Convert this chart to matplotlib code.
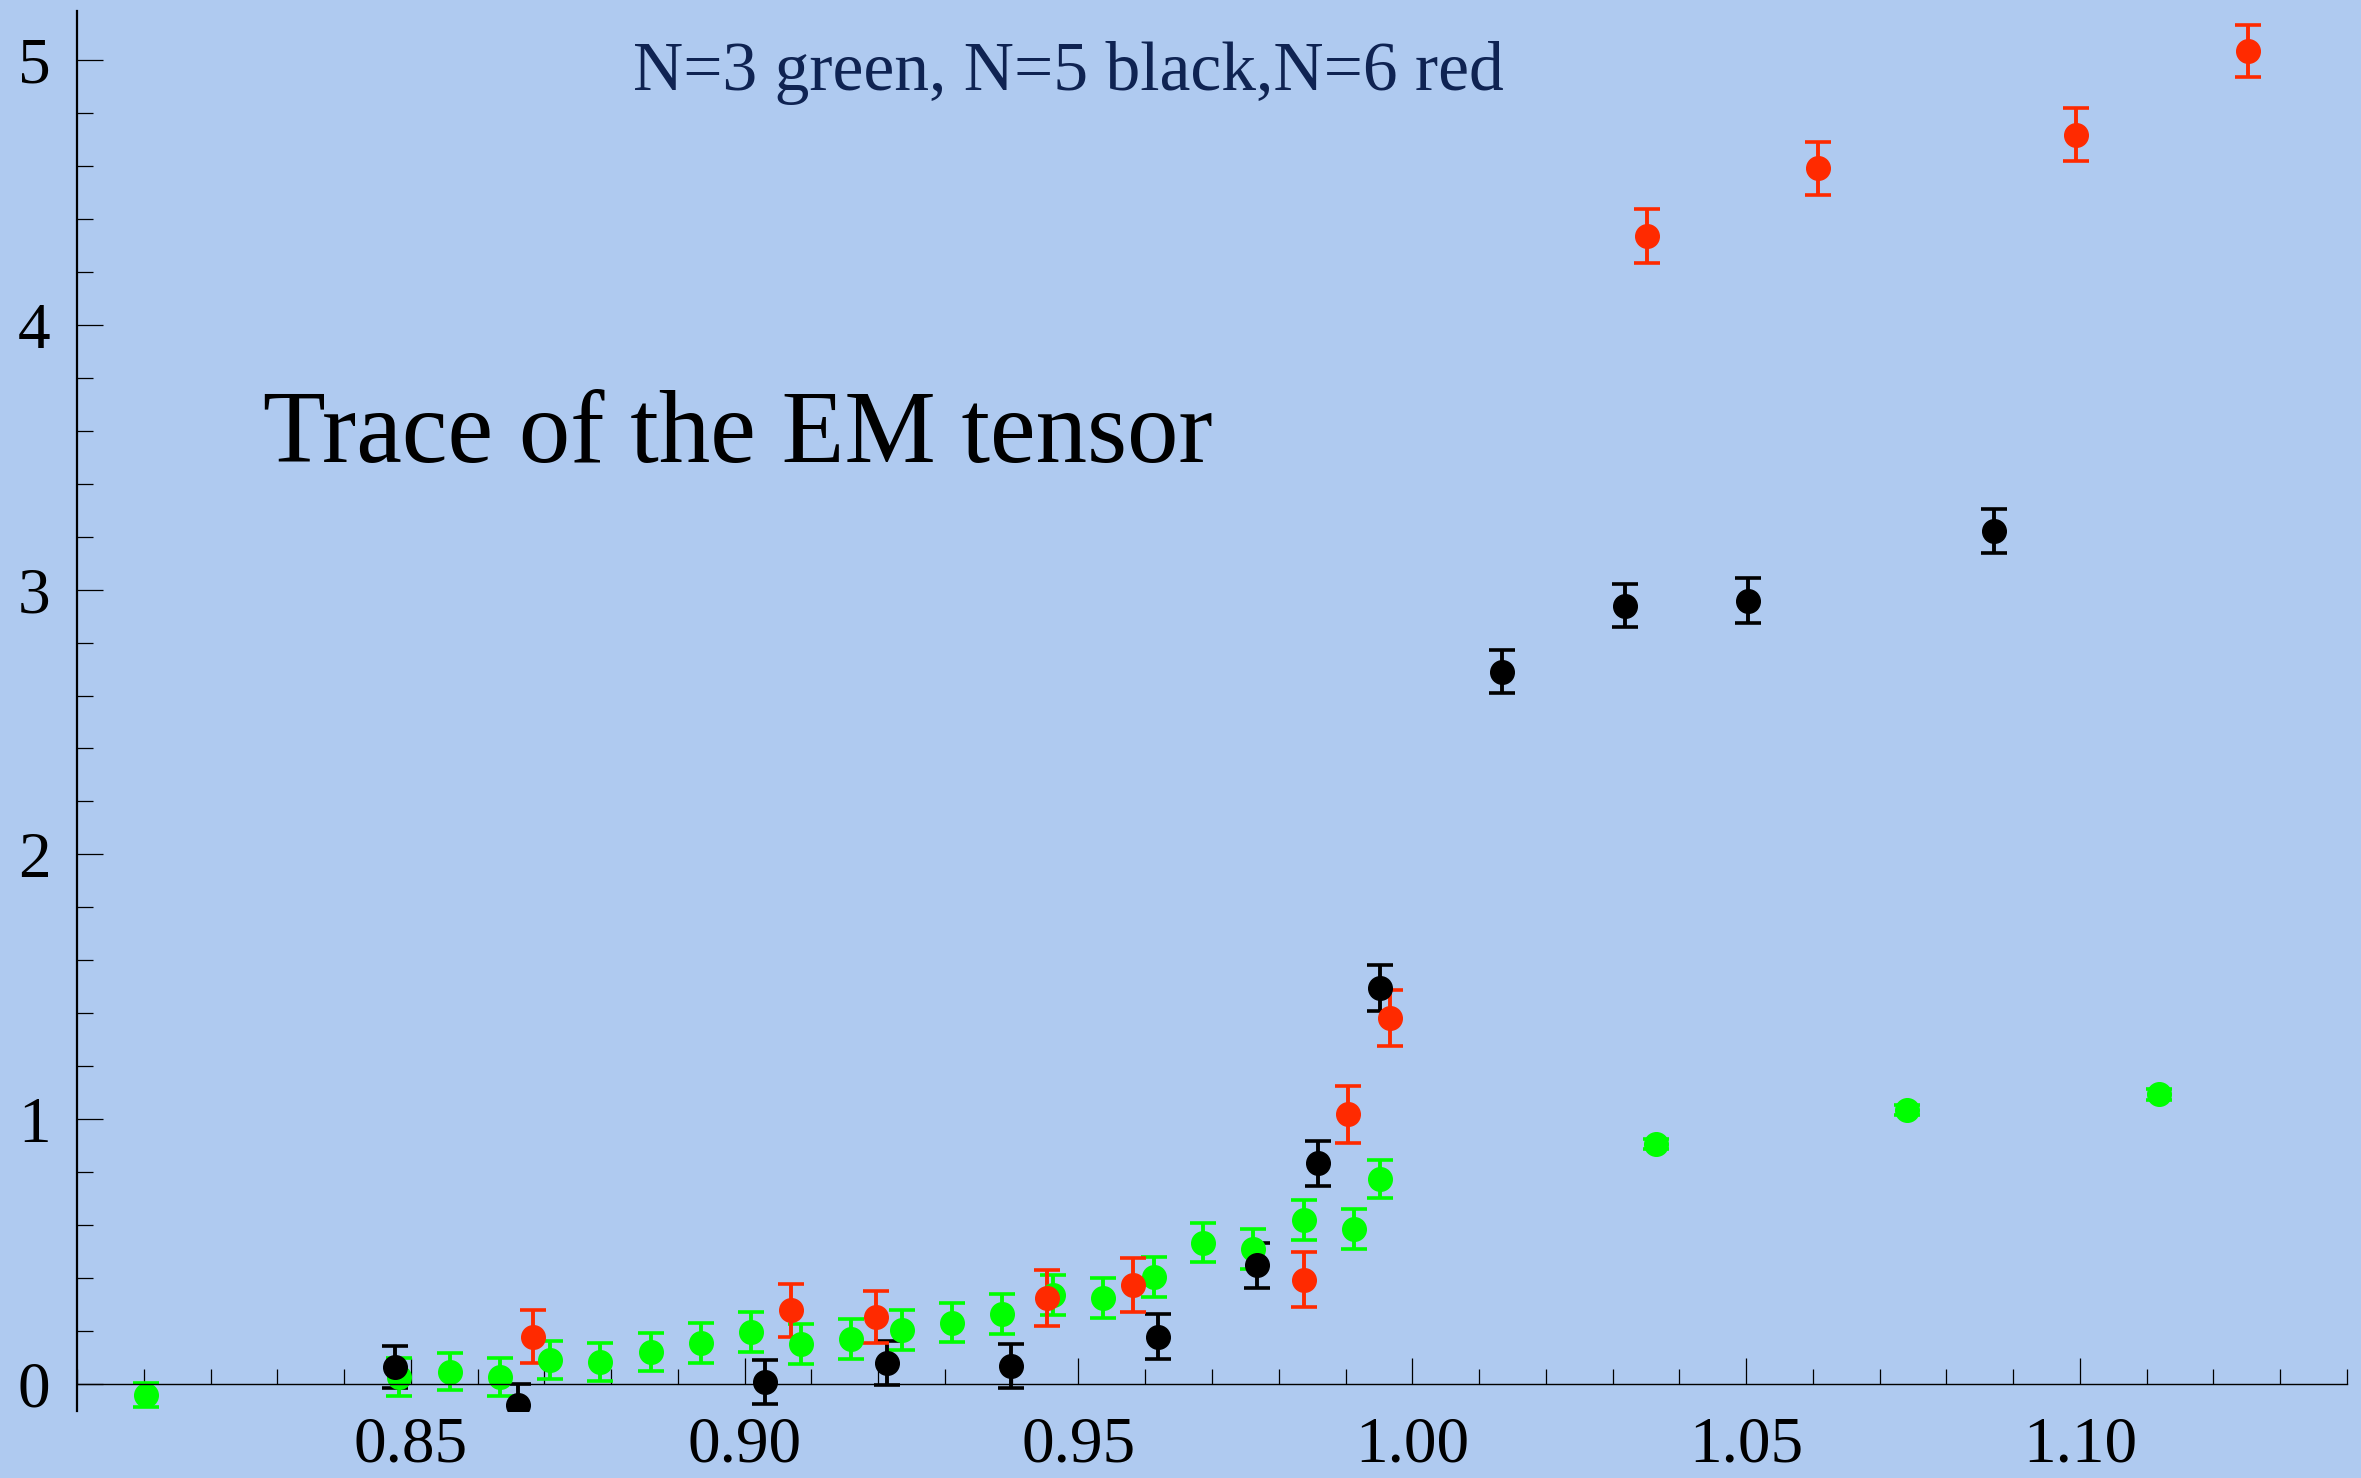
import numpy as np
from matplotlib import pyplot as plt
from matplotlib.ticker import MultipleLocator, FormatStrFormatter

plt.rcParams['font.family'] = ['Liberation Serif', 'DejaVu Serif']

# N=3 (green)
x_n3 = [0.8104, 0.8483, 0.8558, 0.8633, 0.8709, 0.8783, 0.8859, 0.8934, 0.9009,
        0.9084, 0.9159, 0.9236, 0.9310, 0.9386, 0.9462, 0.9537, 0.9613, 0.9687,
        0.9762, 0.9838, 0.9913, 0.9951, 1.0365, 1.0741, 1.1118]
y_n3 = [-0.042, 0.027, 0.046, 0.028, 0.090, 0.083, 0.122, 0.154, 0.196,
        0.151, 0.170, 0.205, 0.232, 0.263, 0.336, 0.324, 0.405, 0.534,
        0.509, 0.619, 0.585, 0.774, 0.906, 1.035, 1.094]
e_n3 = [0.045, 0.072, 0.070, 0.072, 0.072, 0.072, 0.072, 0.075, 0.075,
        0.075, 0.075, 0.075, 0.075, 0.075, 0.075, 0.075, 0.075, 0.075,
        0.075, 0.075, 0.075, 0.072, 0.020, 0.020, 0.020]

# N=5 (black)
x_n5 = [0.8477, 0.8661, 0.9030, 0.9213, 0.9399, 0.9619, 0.9767, 0.9859, 0.9951,
        1.0135, 1.0319, 1.0503, 1.0872]
y_n5 = [0.065, -0.079, 0.009, 0.080, 0.068, 0.179, 0.449, 0.833, 1.494,
        2.690, 2.939, 2.958, 3.221]
e_n5 = [0.079, 0.080, 0.083, 0.082, 0.083, 0.084, 0.085, 0.084, 0.087,
        0.082, 0.082, 0.084, 0.082]

# N=6 (red)
x_n6 = [0.8683, 0.9069, 0.9196, 0.9453, 0.9581, 0.9838, 0.9903, 0.9967,
        1.0352, 1.0608, 1.0994, 1.1251]
y_n6 = [0.178, 0.279, 0.253, 0.326, 0.374, 0.393, 1.018, 1.381,
        4.335, 4.591, 4.717, 5.034]
e_n6 = [0.100, 0.100, 0.100, 0.106, 0.103, 0.104, 0.107, 0.106,
        0.103, 0.100, 0.100, 0.100]

xticks = [0.85, 0.90, 0.95, 1.00, 1.05, 1.10]
yticks = [0, 1, 2, 3, 4, 5]

bg = '#afcaf0'
fig = plt.figure(figsize=(23.61, 14.78), dpi=100, facecolor=bg)
ax = fig.add_axes([77/2361, 1 - 1411/1478, (2347 - 77)/2361, 1400/1478])
ax.set_facecolor(bg)

style = dict(fmt='o', markersize=17, elinewidth=2.8, capsize=9.5, capthick=2.6)
ax.errorbar(x_n3, y_n3, yerr=e_n3, color='#00ff00', **style)
ax.errorbar(x_n5, y_n5, yerr=e_n5, color='black', **style)
ax.errorbar(x_n6, y_n6, yerr=e_n6, color='#ff2a00', **style)

ax.set_xlim(0.80, 1.14)
ax.set_ylim(-0.102, 5.185)

# x axis through y=0, y axis on the left
ax.spines['top'].set_visible(False)
ax.spines['right'].set_visible(False)
ax.spines['bottom'].set_position(('data', 0))
ax.spines['bottom'].set_linewidth(1.0)
ax.spines['left'].set_linewidth(1.6)

ax.set_xticks(xticks)
ax.xaxis.set_minor_locator(MultipleLocator(0.01))
ax.xaxis.set_major_formatter(FormatStrFormatter('%.2f'))
ax.set_yticks(yticks)
ax.yaxis.set_minor_locator(MultipleLocator(0.2))

ax.tick_params(axis='both', which='both', direction='in', width=0.9, labelsize=47)
ax.tick_params(axis='x', which='major', length=19, pad=23)
ax.tick_params(axis='x', which='minor', length=11)
ax.tick_params(axis='y', which='major', length=19, pad=19)
ax.tick_params(axis='y', which='minor', length=11.5)

fig.text(263/2361, 1 - 462/1478, 'Trace of the EM tensor', fontsize=74,
         color='black', va='baseline', ha='left')
fig.text(633/2361, 1 - 90/1478, 'N=3 green, N=5 black,N=6 red', fontsize=50,
         color='#0f2352', va='baseline', ha='left')

fig.savefig('out.png', dpi=100, facecolor=bg)
